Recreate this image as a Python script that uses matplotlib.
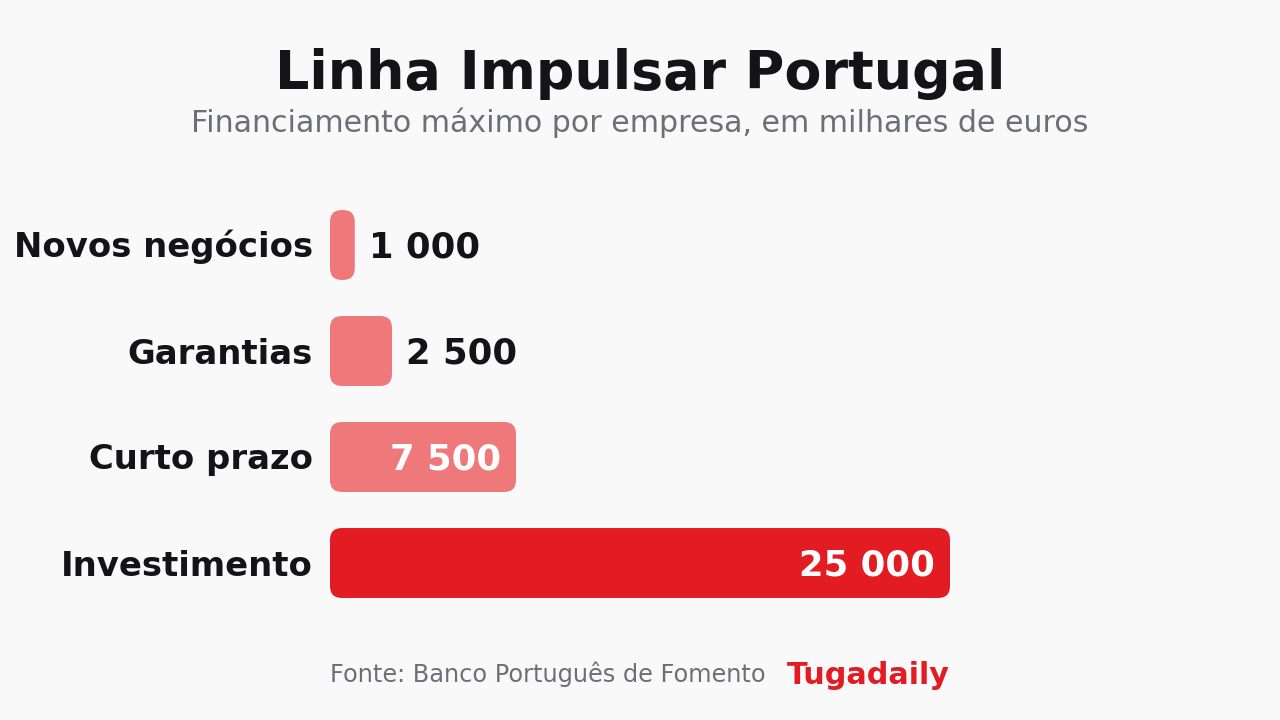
import matplotlib.pyplot as plt
from matplotlib.patches import FancyBboxPatch

plt.rcParams["font.family"] = ["DejaVu Sans"]

categories = ["Novos negócios", "Garantias", "Curto prazo", "Investimento"]
values = [1000, 2500, 7500, 25000]
value_labels = ["1 000", "2 500", "7 500", "25 000"]

title = "Linha Impulsar Portugal"
subtitle = "Financiamento máximo por empresa, em milhares de euros"
source = "Fonte: Banco Português de Fomento"
brand = "Tugadaily"

bg = "#f9f9f9"
red = "#e31b23"
light = "#ef787b"
dark = "#141417"
grey = "#6e6e78"

W, H = 1280, 720
fig = plt.figure(figsize=(W / 100, H / 100), dpi=100, facecolor=bg)
px = 0.72  # points per pixel at dpi 100

# axes placed in pixel terms: x 330..950, y 192..616 (from top)
left, right, top, bottom = 330, 950, 192, 616
ax = fig.add_axes([left / W, 1 - bottom / H, (right - left) / W, (bottom - top) / H])
ax.set_facecolor(bg)
xmax = max(values)
ax.set_xlim(0, xmax)
ax.set_ylim(len(categories) - 0.5, -0.5)
ax.axis("off")

# data units per pixel
xu = xmax / (right - left)
yu = len(categories) / (bottom - top)
bar_h = 0.66
radius_px = 12
base_off = -12.5 * px

for i, (cat, v, lab) in enumerate(zip(categories, values, value_labels)):
    col = red if v == xmax else light
    r = min(radius_px * xu, v / 2)
    box = FancyBboxPatch((0, i - bar_h / 2), v, bar_h,
                         boxstyle=f"round,pad=0,rounding_size={r}",
                         mutation_aspect=yu / xu,
                         facecolor=col, edgecolor="none")
    ax.add_patch(box)
    ax.annotate(cat, (0, i), xytext=(-17 * px, base_off), textcoords="offset points",
                ha="right", va="baseline", fontsize=24.4, fontweight="bold",
                color=dark)
    if v / xmax > 0.2:
        ax.annotate(lab, (v, i), xytext=(-15 * px, base_off), textcoords="offset points",
                    ha="right", va="baseline", fontsize=25.5, fontweight="bold",
                    color="white")
    else:
        ax.annotate(lab, (v, i), xytext=(14 * px, base_off), textcoords="offset points",
                    ha="left", va="baseline", fontsize=25.5, fontweight="bold",
                    color=dark)

fig.text(0.5, 1 - 89 / H, title, ha="center", va="baseline",
         fontsize=38.8, fontweight="bold", color=dark)
fig.text(0.5, 1 - 132 / H, subtitle, ha="center", va="baseline",
         fontsize=21.6, color=grey)
fig.text(330 / W, 1 - 682 / H, source, ha="left", va="baseline",
         fontsize=17.3, color=grey)
fig.text(950 / W, 1 - 684 / H, brand, ha="right", va="baseline",
         fontsize=21.8, fontweight="bold", color=red)

fig.savefig("out.png", dpi=100, facecolor=bg)
